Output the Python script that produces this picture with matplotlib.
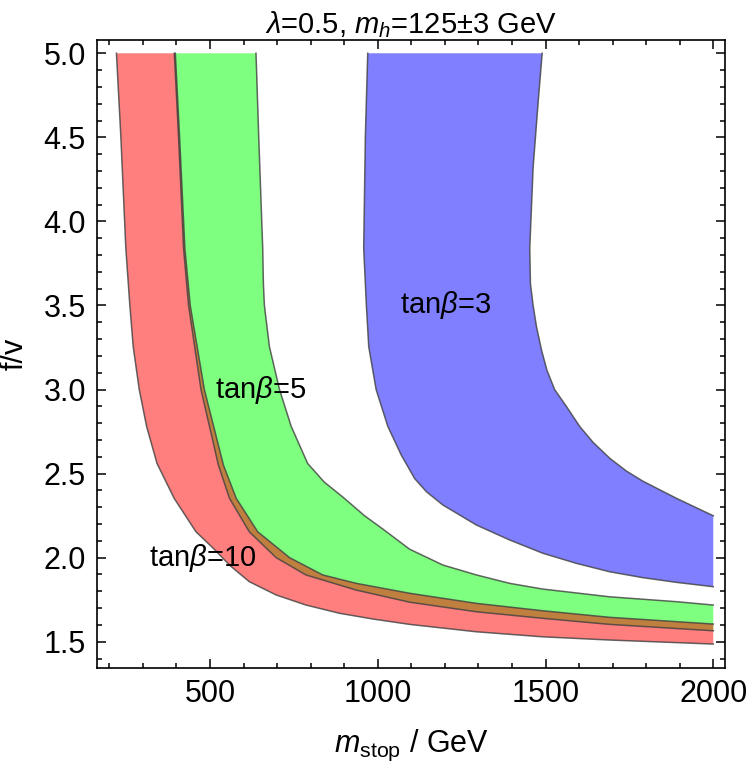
import numpy as np
import matplotlib
matplotlib.use("Agg")
import matplotlib.pyplot as plt
from matplotlib.ticker import MultipleLocator, FormatStrFormatter

plt.rcParams['font.family'] = ['Liberation Sans', 'DejaVu Sans']
plt.rcParams['mathtext.fontset'] = 'custom'
plt.rcParams['mathtext.rm'] = 'Liberation Sans'
plt.rcParams['mathtext.it'] = 'Liberation Sans:italic'

# band boundaries (m_stop in GeV, f/v)
# tan(beta)=10
red_lo_x = [221, 234, 249, 261, 271, 289, 311, 342, 393, 458, 510, 560, 617, 697, 786, 886, 985, 1095, 1294, 1492, 1691, 2000]
red_lo_y = [5.00, 4.51, 3.84, 3.50, 3.255, 3.00, 2.78, 2.56, 2.353, 2.154, 2.055, 1.952, 1.857, 1.778, 1.718, 1.669, 1.635, 1.603, 1.559, 1.529, 1.510, 1.486]
red_hi_x = [396.5, 409, 425, 441, 483, 540, 578, 642, 737, 836, 936, 1095, 1294, 1492, 1691, 2000]
red_hi_y = [5.00, 4.51, 3.84, 3.50, 3.00, 2.55, 2.353, 2.154, 2.00, 1.897, 1.847, 1.788, 1.728, 1.684, 1.645, 1.605]

# tan(beta)=5
green_lo_x = [393.5, 406, 421, 436, 473, 525, 558, 617, 697, 786, 936, 1095, 1294, 1492, 1691, 2000]
green_lo_y = [5.00, 4.51, 3.84, 3.50, 3.00, 2.55, 2.353, 2.154, 2.00, 1.897, 1.807, 1.735, 1.678, 1.639, 1.603, 1.565]
green_hi_x = [637, 645, 657, 659, 662, 677, 707, 742, 791, 840, 896, 960, 1015, 1095, 1194, 1294, 1393, 1492, 1691, 1890, 2000]
green_hi_y = [5.00, 4.51, 3.84, 3.632, 3.50, 3.255, 3.00, 2.78, 2.56, 2.45, 2.36, 2.25, 2.17, 2.05, 1.956, 1.897, 1.847, 1.813, 1.767, 1.738, 1.718]

# tan(beta)=3
blue_lo_x = [970, 963, 958, 966, 973, 995, 1030, 1070, 1110, 1145, 1194, 1294, 1393, 1492, 1592, 1691, 1790, 1890, 2000]
blue_lo_y = [5.00, 4.51, 3.84, 3.50, 3.255, 3.00, 2.78, 2.61, 2.47, 2.392, 2.313, 2.194, 2.105, 2.026, 1.966, 1.916, 1.881, 1.853, 1.827]
blue_hi_x = [1490, 1478, 1463, 1453, 1455, 1463, 1473, 1488, 1504, 1527, 1562, 1602, 1642, 1692, 1741, 1790, 1890, 2000]
blue_hi_y = [5.00, 4.71, 4.32, 3.84, 3.63, 3.50, 3.374, 3.235, 3.116, 3.00, 2.90, 2.78, 2.685, 2.59, 2.515, 2.455, 2.353, 2.249]

labels = ['tan$\\beta$=3', 'tan$\\beta$=5', 'tan$\\beta$=10']
label_x = [1065, 650, 478]
label_y = [3.5, 3.0, 2.0]

fig = plt.figure(figsize=(7.5, 7.69), dpi=100)
ax = fig.add_axes([0.1293, 0.131, 0.8374, 0.817])

bands = [
    (blue_lo_x, blue_lo_y, blue_hi_x, blue_hi_y, (0, 0, 1)),
    (green_lo_x, green_lo_y, green_hi_x, green_hi_y, (0, 1, 0)),
    (red_lo_x, red_lo_y, red_hi_x, red_hi_y, (1, 0, 0)),
]
for lx, ly, hx, hy, c in bands:
    px = np.concatenate([lx, hx[::-1]])
    py = np.concatenate([ly, hy[::-1]])
    ax.fill(px, py, color=c, alpha=0.5, lw=0)
    ax.plot(lx, ly, color='#404040', lw=1.1, alpha=0.8, solid_joinstyle='round')
    ax.plot(hx, hy, color='#404040', lw=1.1, alpha=0.8, solid_joinstyle='round')

ax.text(label_x[0], label_y[0], labels[0], fontsize=21, ha='left', va='center')
ax.text(label_x[1], label_y[1], labels[1], fontsize=21, ha='center', va='center')
ax.text(label_x[2], label_y[2], labels[2], fontsize=21, ha='center', va='center')

ax.set_xlim(163, 2035)
ax.set_ylim(1.342, 5.079)
ax.xaxis.set_major_locator(MultipleLocator(500))
ax.xaxis.set_minor_locator(MultipleLocator(100))
ax.yaxis.set_major_locator(MultipleLocator(0.5))
ax.yaxis.set_minor_locator(MultipleLocator(0.1))
ax.yaxis.set_major_formatter(FormatStrFormatter('%.1f'))
ax.tick_params(which='both', direction='in', top=True, right=True, width=1.1, labelsize=22)
ax.tick_params(which='major', length=6.3, pad=8)
ax.tick_params(which='minor', length=3.6)
for s in ax.spines.values():
    s.set_linewidth(1.2)

ax.set_xlabel('$m_{\\mathrm{stop}}$ / GeV', fontsize=22, labelpad=13)
ax.set_ylabel('f/v', fontsize=22, labelpad=10)
ax.set_title('$\\lambda$=0.5, $m_h$=125±3 GeV', fontsize=21, pad=5)

fig.savefig('out.png', dpi=100)
